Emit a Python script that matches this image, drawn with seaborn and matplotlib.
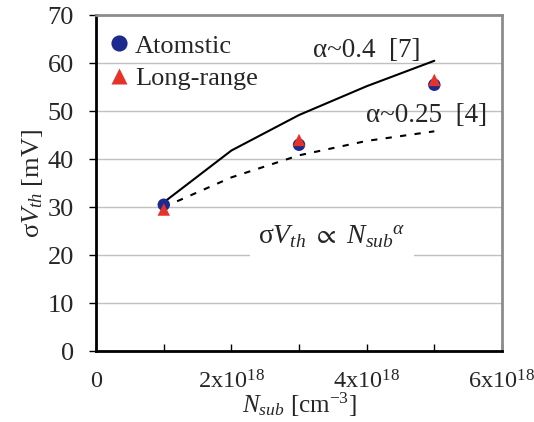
import matplotlib
matplotlib.use("Agg")
import matplotlib.pyplot as plt
import seaborn as sns
import pandas as pd
from matplotlib.ticker import FixedLocator

sns.set_theme(style="white")
plt.rcParams['font.family'] = ['Liberation Serif', 'DejaVu Serif']
plt.rcParams['mathtext.fontset'] = 'custom'
plt.rcParams['mathtext.rm'] = 'Liberation Serif'
plt.rcParams['mathtext.it'] = 'Liberation Serif:italic'
plt.rcParams['mathtext.bf'] = 'Liberation Serif:bold'
plt.rcParams['mathtext.fallback'] = 'stix'

# Data
n_sub = [1e18, 3e18, 5e18]
atomistic = [30.5, 43.0, 55.5]
long_range = [29.5, 44.0, 56.5]

fit_x = [1e18, 2e18, 3e18, 4e18, 5e18]
fit_04 = [31.0, 41.8, 49.2, 55.2, 60.5]
fit_025 = [30.0, 36.2, 40.8, 43.8, 45.8]

xticks = [0, 2e18, 4e18, 6e18]
xticklabels = ['0', r'2x10$^{18}$', r'4x10$^{18}$', r'6x10$^{18}$']
yticks = [0, 10, 20, 30, 40, 50, 60, 70]

pts = pd.DataFrame({
    'N': n_sub * 2,
    'sigma': atomistic + long_range,
    'model': ['Atomstic'] * 3 + ['Long-range'] * 3,
})
fits = pd.DataFrame({'N': fit_x, 'a04': fit_04, 'a025': fit_025})

fig = plt.figure(figsize=(5.34, 4.22), dpi=100)
ax = fig.add_axes([0.18, 0.168, 0.76, 0.796])

for y in yticks[1:-1]:
    ax.axhline(y, color='#C0C0C0', lw=1.0, zorder=0)

sns.lineplot(data=fits, x='N', y='a04', ax=ax, color='black', lw=1.5, zorder=2)
sns.lineplot(data=fits, x='N', y='a025', ax=ax, color='black', lw=1.5,
             linestyle=(0, (3, 4)), zorder=2)
sns.scatterplot(data=pts, x='N', y='sigma', hue='model', style='model',
                markers={'Atomstic': 'o', 'Long-range': '^'},
                palette={'Atomstic': '#1B2A8C', 'Long-range': '#E5332A'},
                s=80, edgecolor='none', ax=ax, zorder=3)

ax.set_xlim(0, 6e18)
ax.set_ylim(0, 70)
ax.set_xticks(xticks)
ax.set_xticklabels(xticklabels)
ax.xaxis.set_minor_locator(FixedLocator([1e18, 3e18, 5e18]))
ax.set_yticks(yticks)
ax.tick_params(axis='x', which='both', direction='in', length=5, width=1,
               color='black', labelsize=17.5, pad=14, bottom=True)
ax.tick_params(axis='y', direction='out', length=5, width=1, color='black',
               labelsize=19, left=True, pad=11)
ax.grid(False)

for s in ['left', 'bottom']:
    ax.spines[s].set_color('black')
    ax.spines[s].set_linewidth(2)
for s in ['top', 'right']:
    ax.spines[s].set_color('#8C8C8C')
    ax.spines[s].set_linewidth(2)

ax.set_xlabel(r'$N_{sub}$ [cm$^{-3}$]', fontsize=18, labelpad=-2)
ax.set_ylabel(r'σ$V_{th}$ [mV]', fontsize=19, labelpad=2)

leg = ax.legend(loc='upper left', bbox_to_anchor=(-0.005, 0.975), frameon=False,
                fontsize=19, handletextpad=0.05, borderaxespad=0.0,
                labelspacing=0.35, handlelength=1.1, markerscale=1.3)

ax.text(4.0e18, 62.7, 'α~0.4  [7]', fontsize=19.5, ha='center', va='center')
ax.text(4.88e18, 49.2, 'α~0.25  [4]', fontsize=19.5, ha='center', va='center')
ax.text(3.49e18, 23.8, r'σ$V_{th}$ $\propto$ $N_{sub}$$^{\alpha}$', fontsize=20,
        ha='center', va='center',
        bbox=dict(facecolor='white', edgecolor='none', pad=6))

fig.savefig('out.png', dpi=100)
